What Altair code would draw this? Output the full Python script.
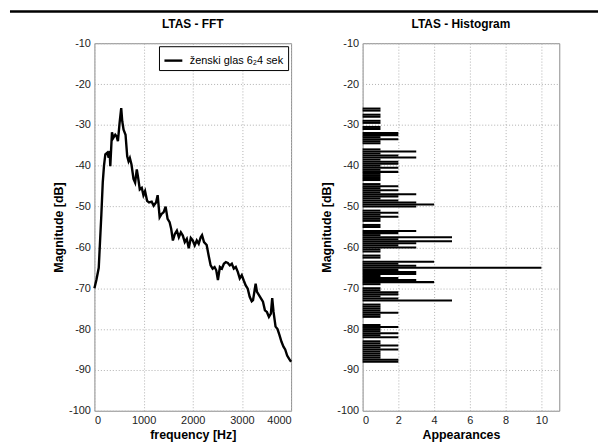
import altair as alt
import pandas as pd

# ---- FFT curve ----
freq = [0, 40, 88, 141, 170, 195, 222, 263, 290, 310, 323, 357, 384, 424, 451, 478,
        512, 545, 566, 593, 633, 667, 694, 721, 754, 795, 828, 862, 889, 923, 963,
        997, 1030, 1071, 1111, 1165, 1205, 1253, 1286, 1327, 1367, 1407, 1448, 1488,
        1529, 1562, 1596, 1636, 1677, 1717, 1758, 1798, 1838, 1879, 1919, 1960, 2000,
        2040, 2081, 2121, 2162, 2189, 2229, 2283, 2323, 2364, 2404, 2444, 2478, 2512,
        2552, 2593, 2633, 2673, 2714, 2754, 2795, 2835, 2875, 2916, 2956, 2997, 3037,
        3077, 3118, 3158, 3199, 3226, 3253, 3279, 3306, 3347, 3387, 3428, 3468, 3508,
        3549, 3589, 3616, 3643, 3684, 3724, 3764, 3805, 3845, 3880, 3920, 3960, 4000]
mag = [-70, -68, -65, -52, -44, -40, -37.2, -36.8, -38, -36.4, -40.1, -31.8, -33.2,
       -32.4, -32.8, -34, -29.5, -25.9, -29.1, -31.2, -32.4, -37.7, -38.9, -38.1,
       -39.7, -43.2, -44.1, -40.9, -42.9, -45.8, -45.4, -47.2, -46.2, -48.6, -49,
       -48.8, -49.8, -49, -47.2, -52.6, -51.8, -51.4, -50, -53, -53.8, -55.5, -58.3,
       -56.7, -55.9, -57.5, -56.3, -57.1, -58.7, -57.9, -60.2, -57.7, -58.3, -59.5,
       -58.3, -59.1, -57.5, -57, -58.7, -59.4, -62, -64.4, -65.2, -64.8, -65.6, -68,
       -64.8, -65.2, -64, -63.6, -63.8, -64.4, -64, -65.2, -64.8, -66, -67.6, -66.8,
       -68.1, -69.3, -70.1, -72.1, -73.2, -72.9, -70.9, -68.9, -70.9, -71.7, -72.5,
       -73.3, -75.4, -75.8, -77, -76.2, -72.4, -75.8, -79.4, -80, -81.5, -83.1,
       -84.3, -85, -86.5, -87.3, -88]
series_name = "ženski glas 6₂4 sek"

# ---- Histogram (bin centres in dB, counts) ----
bin_centers = [-26.0, -26.5, -27.0, -27.5, -28.0, -28.5, -29.0, -29.5, -30.0, -30.5,
               -31.0, -31.5, -32.0, -32.5, -33.0, -33.5, -34.0, -34.5, -35.0, -35.5,
               -36.0, -36.5, -37.0, -37.5, -38.0, -38.5, -39.0, -39.5, -40.0, -40.5,
               -41.0, -41.5, -42.0, -42.5, -43.0, -43.5, -44.0, -44.5, -45.0, -45.5,
               -46.0, -46.5, -47.0, -47.5, -48.0, -48.5, -49.0, -49.5, -50.0, -50.5,
               -51.0, -51.5, -52.0, -52.5, -53.0, -53.5, -54.0, -54.5, -55.0, -55.5,
               -56.0, -56.5, -57.0, -57.5, -58.0, -58.5, -59.0, -59.5, -60.0, -60.5,
               -61.0, -61.5, -62.0, -62.5, -63.0, -63.5, -64.0, -64.5, -65.0, -65.5,
               -66.0, -66.5, -67.0, -67.5, -68.0, -68.5, -69.0, -69.5, -70.0, -70.5,
               -71.0, -71.5, -72.0, -72.5, -73.0, -73.5, -74.0, -74.5, -75.0, -75.5,
               -76.0, -76.5, -77.0, -77.5, -78.0, -78.5, -79.0, -79.5, -80.0, -80.5,
               -81.0, -81.5, -82.0, -82.5, -83.0, -83.5, -84.0, -84.5, -85.0, -85.5,
               -86.0, -86.5, -87.0, -87.5, -88.0]
counts = [1, 1, 0, 1, 1, 0, 1, 1, 0, 1,
          1, 0, 2, 2, 1, 2, 1, 1, 0, 0,
          1, 3, 1, 2, 3, 1, 2, 2, 1, 2,
          1, 2, 1, 1, 1, 1, 0, 1, 2, 1,
          2, 1, 3, 2, 1, 2, 3, 4, 3, 0,
          1, 2, 1, 2, 1, 1, 0, 1, 1, 0,
          3, 2, 1, 5, 2, 5, 3, 2, 3, 1,
          1, 0, 1, 1, 0, 4, 2, 3, 10, 2,
          3, 3, 1, 2, 3, 4, 1, 0, 1, 1,
          2, 2, 1, 2, 5, 0, 1, 1, 1, 1,
          2, 1, 1, 0, 0, 0, 1, 2, 1, 1,
          2, 1, 2, 0, 1, 1, 2, 1, 2, 1,
          1, 1, 1, 2, 2]
bin_width = 0.5

df_fft = pd.DataFrame({"f": freq, "m": mag, "s": [series_name] * len(freq)})
df_hist = pd.DataFrame({
    "lo": [c - bin_width / 2 for c in bin_centers],
    "hi": [c + bin_width / 2 for c in bin_centers],
    "count": counts,
})
df_hist["zero"] = 0
df_one = pd.DataFrame({"k": [0]})

FONT = "Liberation Sans"
W, H = 198, 370
LBL = "datum.value < 0 ? '-' + abs(datum.value) : '' + datum.value"

yscale = alt.Scale(domain=[-100, -10], nice=False, zero=False)
yvals = list(range(-100, 0, 10))


def yaxis():
    return alt.Axis(values=yvals, title="Magnitude [dB]", grid=True, labelExpr=LBL)


line = alt.Chart(df_fft).mark_line(color="black", strokeWidth=2.4).encode(
    x=alt.X("f:Q", scale=alt.Scale(domain=[0, 4000], nice=False),
            axis=alt.Axis(values=[0, 1000, 2000, 3000, 4000], title="frequency [Hz]",
                          labelExpr=LBL)),
    y=alt.Y("m:Q", scale=yscale, axis=yaxis()),
    color=alt.Color("s:N", scale=alt.Scale(range=["black"]),
                    legend=alt.Legend(title=None, orient="top-right", offset=3,
                                      strokeColor="black", fillColor="white",
                                      padding=4, symbolType="stroke",
                                      symbolStrokeWidth=2.4, symbolSize=324,
                                      labelFontSize=11, labelFont=FONT, labelOffset=6,
                                      labelColor="black", cornerRadius=0)),
)
left = line.properties(width=W, height=H, title="LTAS - FFT")

bars = alt.Chart(df_hist).mark_rect(color="black").encode(
    x=alt.X("zero:Q", scale=alt.Scale(domain=[0, 11], nice=False),
            axis=alt.Axis(values=[0, 2, 4, 6, 8, 10], title="Appearances", labelExpr=LBL)),
    x2="count:Q",
    y=alt.Y("lo:Q", scale=yscale, axis=yaxis()),
    y2="hi:Q",
)
right = bars.properties(width=W, height=H, title="LTAS - Histogram")

# thin strip holding the black frame line across the top of the figure
strip = alt.Chart(df_one).mark_rule(color="black", strokeWidth=2.5).encode(
    x=alt.value(-85), x2=alt.value(507), y=alt.value(1)
).properties(width=W, height=1, view=alt.ViewBackground(stroke="transparent"))

panels = alt.hconcat(left, right, spacing=72, bounds="flush").resolve_legend(
    color="independent"
)

chart = alt.vconcat(strip, panels, spacing=32, bounds="flush").properties(
    padding=0
).configure(
    font=FONT, background="white"
).configure_view(
    stroke="#8c8c8c", strokeWidth=1
).configure_axis(
    gridColor="#b0b0b0", gridDash=[1, 2], gridWidth=1, gridOpacity=1,
    domain=False, ticks=False,
    labelFont=FONT, labelFontSize=11, labelColor="#222", labelPadding=4,
    titleFont=FONT, titleFontSize=12.5, titleFontWeight="bold", titleColor="black",
    titlePadding=3,
).configure_title(
    font=FONT, fontSize=12, fontWeight="bold", color="black", offset=6
)

chart.save("out.html", embed_options={"renderer": "svg", "actions": False})
